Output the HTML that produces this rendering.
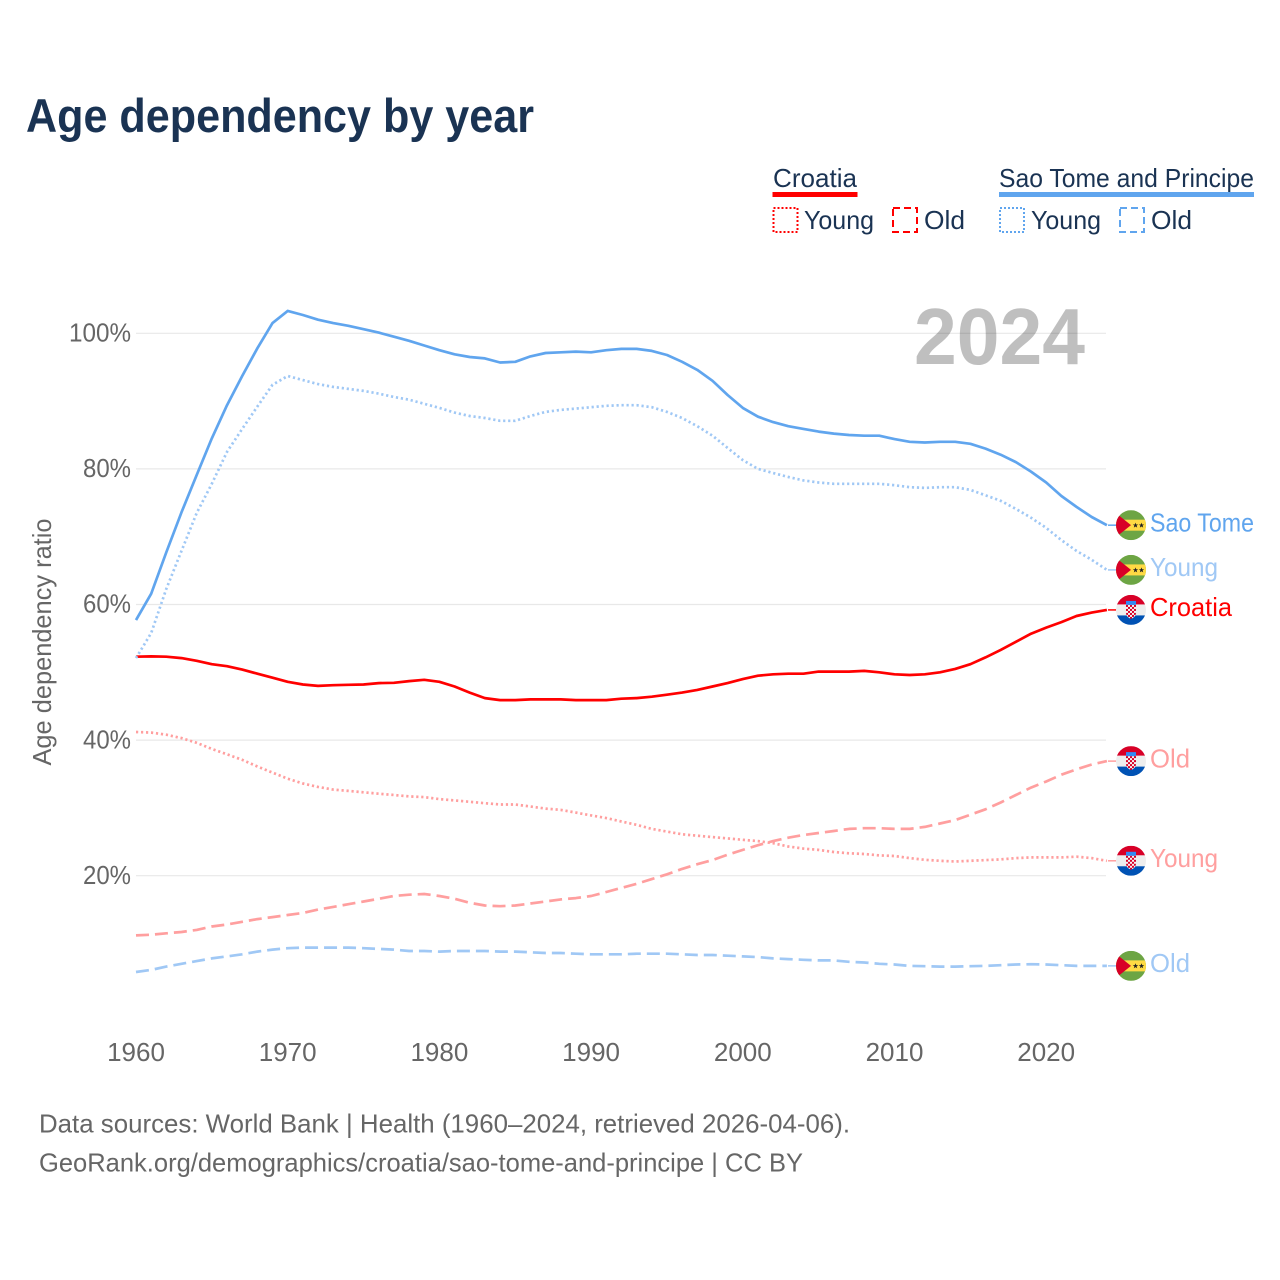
<!DOCTYPE html>
<html lang="en">
<head>
<meta charset="utf-8">
<title>Age dependency by year</title>
<style>
  html, body { margin: 0; padding: 0; background: #fff; }
  svg { display: block; font-family: "Liberation Sans", sans-serif; }
</style>
</head>
<body>
<svg id="chart" xmlns="http://www.w3.org/2000/svg" width="1280" height="1280" viewBox="0 0 1280 1280">
  <defs>
    <clipPath id="flag-clip"><circle cx="0" cy="0" r="15"/></clipPath>
    <pattern id="checks" x="-5" y="-5" width="4" height="4" patternUnits="userSpaceOnUse">
      <rect width="4" height="4" fill="#f4f4f4"/>
      <rect width="2" height="2" fill="#d80027"/>
      <rect x="2" y="2" width="2" height="2" fill="#d80027"/>
    </pattern>
    <symbol id="flag-stp" overflow="visible" viewBox="-15 -15 30 30">
      <g clip-path="url(#flag-clip)">
        <rect x="-15" y="-15" width="30" height="30" fill="#6da544"/>
        <rect x="-15" y="-5.5" width="30" height="11" fill="#ffda44"/>
        <polygon points="-15,-12 0,0 -15,12" fill="#d80027"/>
        <polygon points="4.5,-2.6 5.2,-0.7 7.2,-0.7 5.6,0.5 6.2,2.4 4.5,1.3 2.8,2.4 3.4,0.5 1.8,-0.7 3.8,-0.7" fill="#222"/>
        <polygon points="10.5,-2.6 11.2,-0.7 13.2,-0.7 11.6,0.5 12.2,2.4 10.5,1.3 8.8,2.4 9.4,0.5 7.8,-0.7 9.8,-0.7" fill="#222"/>
      </g>
    </symbol>
    <symbol id="flag-hrv" overflow="visible" viewBox="-15 -15 30 30">
      <g clip-path="url(#flag-clip)">
        <rect x="-15" y="-15" width="30" height="30" fill="#eeeeee"/>
        <rect x="-15" y="-15" width="30" height="9.5" fill="#d80027"/>
        <rect x="-15" y="5.5" width="30" height="9.5" fill="#0052b4"/>
        <rect x="-5" y="-9" width="10" height="4.5" fill="#338af3"/>
        <path d="M-5,-5 H5 V3 Q5,7 0,9 Q-5,7 -5,3 Z" fill="url(#checks)"/>
      </g>
    </symbol>
  </defs>

  <rect x="0" y="0" width="1280" height="1280" fill="#ffffff"/>

  <text x="26" y="132" font-size="47.5" font-weight="700" fill="#1a3353" textLength="508" lengthAdjust="spacingAndGlyphs">Age dependency by year</text>

  <g font-size="26" fill="#1a3353">
    <text x="773" y="187" textLength="84" lengthAdjust="spacingAndGlyphs">Croatia</text>
    <rect x="772.5" y="192" width="85" height="5" fill="#ff0000"/>
    <rect x="773.5" y="208" width="24" height="24" fill="none" stroke="#ff0000" stroke-width="2" stroke-dasharray="2 2"/>
    <text x="804" y="229" textLength="70" lengthAdjust="spacingAndGlyphs">Young</text>
    <rect x="893" y="208" width="24" height="24" fill="none" stroke="#ff0000" stroke-width="2" stroke-dasharray="7 4"/>
    <text x="924" y="229" textLength="41" lengthAdjust="spacingAndGlyphs">Old</text>

    <text x="999" y="187" textLength="255" lengthAdjust="spacingAndGlyphs">Sao Tome and Principe</text>
    <rect x="999" y="192" width="255" height="5" fill="#60a5ee"/>
    <rect x="1000" y="208" width="24" height="24" fill="none" stroke="#60a5ee" stroke-width="2" stroke-dasharray="2 2"/>
    <text x="1031" y="229" textLength="70" lengthAdjust="spacingAndGlyphs">Young</text>
    <rect x="1120" y="208" width="24" height="24" fill="none" stroke="#60a5ee" stroke-width="2" stroke-dasharray="7 4"/>
    <text x="1151" y="229" textLength="41" lengthAdjust="spacingAndGlyphs">Old</text>
  </g>

  <g id="grid"></g>

  <text x="914" y="364" font-size="80" font-weight="700" fill="#000000" fill-opacity="0.25" textLength="171" lengthAdjust="spacingAndGlyphs">2024</text>

  <g id="y-ticks" font-size="26" fill="#666666" text-anchor="end"></g>
  <g id="x-ticks" font-size="26" fill="#666666" text-anchor="middle"></g>

  <text transform="translate(51,642) rotate(-90)" font-size="26" fill="#666666" text-anchor="middle" textLength="247" lengthAdjust="spacingAndGlyphs">Age dependency ratio</text>

  <g id="series"></g>
  <g id="end-labels" font-size="26"></g>

  <text x="39" y="1132.5" font-size="26" fill="#666666" textLength="811" lengthAdjust="spacingAndGlyphs">Data sources: World Bank | Health (1960–2024, retrieved 2026-04-06).</text>
  <text x="39" y="1171.5" font-size="26" fill="#666666" textLength="764" lengthAdjust="spacingAndGlyphs">GeoRank.org/demographics/croatia/sao-tome-and-principe | CC BY</text>
</svg>
<script>
const xTickYears = [1960, 1970, 1980, 1990, 2000, 2010, 2020];
const yTickValues = [100, 80, 60, 40, 20];
const firstYear = 1960;

const stpTotal = [57.7,61.6,67.7,73.6,79.1,84.5,89.4,93.7,97.8,101.5,103.3,102.7,102.0,101.5,101.1,100.6,100.1,99.5,98.9,98.2,97.5,96.9,96.5,96.3,95.7,95.8,96.6,97.1,97.2,97.3,97.2,97.5,97.7,97.7,97.4,96.8,95.8,94.6,93.0,90.9,89.0,87.7,86.9,86.3,85.9,85.5,85.2,85.0,84.9,84.9,84.4,84.0,83.9,84.0,84.0,83.7,83.0,82.1,81.0,79.6,78.0,76.0,74.4,72.9,71.7];
const stpYoung = [52.1,55.8,62.3,67.9,73.5,77.8,82.5,85.9,89.2,92.4,93.7,93.1,92.5,92.1,91.8,91.5,91.1,90.6,90.2,89.6,89.0,88.3,87.8,87.5,87.1,87.1,87.8,88.4,88.7,88.9,89.1,89.3,89.4,89.4,89.1,88.4,87.5,86.3,84.9,83.1,81.3,80.0,79.4,78.8,78.3,78.0,77.8,77.8,77.8,77.8,77.6,77.3,77.2,77.3,77.3,76.9,76.1,75.3,74.1,72.8,71.3,69.5,67.9,66.6,65.1];
const stpOld = [5.8,6.1,6.6,7.0,7.4,7.8,8.1,8.4,8.8,9.1,9.3,9.4,9.4,9.4,9.4,9.3,9.2,9.1,8.9,8.9,8.8,8.9,8.9,8.9,8.8,8.8,8.7,8.6,8.6,8.5,8.4,8.4,8.4,8.5,8.5,8.5,8.4,8.3,8.3,8.2,8.1,8.0,7.8,7.7,7.6,7.5,7.5,7.3,7.2,7.0,6.9,6.7,6.65,6.6,6.6,6.65,6.7,6.8,6.9,6.95,6.9,6.8,6.7,6.7,6.7];
const hrvTotal = [52.3,52.35,52.3,52.1,51.7,51.2,50.9,50.4,49.8,49.2,48.6,48.2,48.0,48.1,48.15,48.2,48.4,48.45,48.7,48.9,48.6,47.9,47.0,46.2,45.9,45.9,46.0,46.0,46.0,45.9,45.9,45.9,46.1,46.2,46.4,46.7,47.0,47.4,47.9,48.4,49.0,49.5,49.7,49.8,49.8,50.1,50.1,50.1,50.2,50.0,49.7,49.6,49.7,50.0,50.5,51.2,52.2,53.3,54.5,55.7,56.6,57.4,58.3,58.8,59.2];
const hrvYoung = [41.2,41.1,40.8,40.3,39.6,38.7,37.9,37.1,36.1,35.2,34.3,33.6,33.1,32.7,32.5,32.3,32.1,31.9,31.7,31.6,31.3,31.1,30.9,30.7,30.5,30.5,30.2,29.9,29.7,29.3,28.9,28.5,28.0,27.5,26.9,26.5,26.1,25.9,25.7,25.5,25.3,25.1,24.8,24.3,24.0,23.8,23.5,23.3,23.2,23.0,22.9,22.6,22.35,22.2,22.1,22.2,22.3,22.4,22.6,22.7,22.7,22.7,22.8,22.6,22.2];
const hrvOld = [11.2,11.3,11.5,11.7,12.0,12.5,12.8,13.2,13.6,13.9,14.2,14.5,15.0,15.4,15.8,16.2,16.6,17.0,17.2,17.3,17.0,16.6,16.0,15.6,15.5,15.6,15.9,16.2,16.5,16.7,17.0,17.6,18.2,18.8,19.5,20.2,21.0,21.7,22.3,23.1,23.8,24.5,25.1,25.6,26.0,26.3,26.6,26.9,27.0,27.0,26.9,26.9,27.2,27.7,28.2,29.0,29.8,30.8,31.9,33.0,33.9,34.9,35.7,36.4,36.9];

const SVGNS = 'http://www.w3.org/2000/svg';
const xScale = year => 136 + (year - 1960) * 15.17;
const yScale = value => 1011.3 - value * 6.78;

function make(tag, attrs, parent) {
  const el = document.createElementNS(SVGNS, tag);
  for (const key in attrs) el.setAttribute(key, attrs[key]);
  parent.appendChild(el);
  return el;
}

const gridGroup = document.getElementById('grid');
const yTickGroup = document.getElementById('y-ticks');
yTickValues.forEach(v => {
  const line = make('line', { x1: 136, x2: 1106, y1: yScale(v), y2: yScale(v), stroke: '#e8e8e8', 'stroke-width': 1.2 }, gridGroup);
  
  
  const label = v + '%';
  const t = make('text', { x: 131, y: yScale(v) + 8.2, textLength: label.length === 4 ? 62 : 48, lengthAdjust: 'spacingAndGlyphs' }, yTickGroup);
  t.textContent = label;
  
  
});

const xTickGroup = document.getElementById('x-ticks');
xTickYears.forEach(y => {
  const t = make('text', { x: xScale(y), y: 1061 }, xTickGroup);
  t.textContent = y;
  
  
});

const seriesGroup = document.getElementById('series');
const labelGroup = document.getElementById('end-labels');

function drawSeries(name, values, color, dash, flag, text, textWidth, textColor) {
  const pts = values.map((v, i) => xScale(firstYear + i).toFixed(1) + ',' + yScale(v).toFixed(1));
  const path = make('polyline', { points: pts.join(' '), fill: 'none', stroke: color, 'stroke-width': 2.7, 'stroke-linejoin': 'round' }, seriesGroup);
  if (dash) path.setAttribute('stroke-dasharray', dash);
  
  

  const endY = yScale(values[values.length - 1]);
  const conn = make('line', { x1: 1108, x2: 1116, y1: endY, y2: endY, stroke: color, 'stroke-width': 1.5 }, labelGroup);
  
  

  const icon = make('use', { href: '#' + flag, x: 1116, y: endY - 15, width: 30, height: 30 }, labelGroup);
  
  

  const t = make('text', { x: 1150, y: endY + 6.3, fill: textColor, textLength: textWidth, lengthAdjust: 'spacingAndGlyphs' }, labelGroup);
  t.textContent = text;
  
  
}

const dotted = '2.2 2.8';
const dashed = '13 6';
drawSeries('stp-old', stpOld, '#a0c8f5', dashed, 'flag-stp', 'Old', 40, '#a0c8f5');
drawSeries('hrv-young', hrvYoung, '#ff9f9f', dotted, 'flag-hrv', 'Young', 68, '#ff9f9f');
drawSeries('hrv-old', hrvOld, '#ff9f9f', dashed, 'flag-hrv', 'Old', 40, '#ff9f9f');
drawSeries('hrv-total', hrvTotal, '#ff0000', null, 'flag-hrv', 'Croatia', 82, '#ff0000');
drawSeries('stp-young', stpYoung, '#a0c8f5', dotted, 'flag-stp', 'Young', 68, '#a0c8f5');
drawSeries('stp-total', stpTotal, '#60a5ee', null, 'flag-stp', 'Sao Tome', 104, '#60a5ee');
</script>
</body>
</html>
